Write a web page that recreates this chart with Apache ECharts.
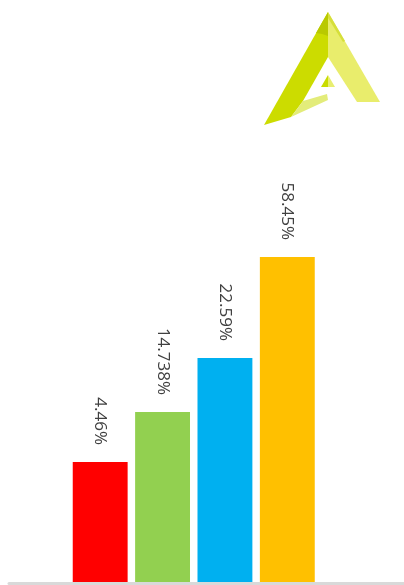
<!DOCTYPE html>
<html>
<head>
<meta charset="utf-8">
<style>
html,body{margin:0;padding:0;background:#fff;}
#chart{width:404px;height:585px;}
</style>
<script src="https://cdn.jsdelivr.net/npm/echarts@6/dist/echarts.min.js"></script>
</head>
<body>
<div id="chart"></div>
<script>
// Data
var categories = ['A', 'B', 'C', 'D'];
var barHeights = [30, 42.5, 56, 81.25];
var barLabels = ['4.46%', '14.738%', '22.59%', '58.45%'];
var barColors = ['#ff0000', '#92d050', '#00b0f0', '#ffc000'];

var chart = echarts.init(document.getElementById('chart'), null, {renderer: 'canvas'});

var seriesData = barHeights.map(function (v, i) {
  return {value: v, itemStyle: {color: barColors[i]}, label: {formatter: barLabels[i]}};
});

chart.setOption({
  animation: false,
  backgroundColor: '#ffffff',
  grid: [
    {left: 69, width: 249.5, top: 182, bottom: 3},
    {left: 9, right: -2, top: 182, bottom: 1.5}
  ],
  xAxis: [
    {type: 'category', gridIndex: 0, data: categories,
     axisLine: {show: false}, axisTick: {show: false}, axisLabel: {show: false}},
    {type: 'category', gridIndex: 1, data: [''],
     axisLine: {show: true, lineStyle: {color: '#d9d9d9', width: 3}},
     axisTick: {show: false}, axisLabel: {show: false}}
  ],
  yAxis: [
    {type: 'value', gridIndex: 0, min: 0, max: 100, show: false, splitLine: {show: false}},
    {type: 'value', gridIndex: 1, min: 0, max: 100, show: false, splitLine: {show: false}}
  ],
  graphic: [
    // logo: light right leg
    {type: 'polygon', shape: {points: [[328,12],[380,102],[357,102],[328,57]]}, style: {fill: '#e9ed6c'}},
    // darker outline near the right outer edge top
    {type: 'polygon', shape: {points: [[328,12],[345,41],[343,42],[328,18]]}, style: {fill: '#d6df3a'}},
    // dark left leg
    {type: 'polygon', shape: {points: [[328,12],[328,57],[303,101],[291,117],[264,125]]}, style: {fill: '#ccdc00'}},
    // olive shading near apex on left leg
    {type: 'polygon', shape: {points: [[328,12],[328,36],[322,34],[316,33]]}, style: {fill: '#b9c900'}},
    // foot
    {type: 'polygon', shape: {points: [[303,101],[327,94],[328,100],[291,117]]}, style: {fill: '#e3ec7a'}},
    // inner small triangle
    {type: 'polygon', shape: {points: [[328,75],[321,87],[328,87]]}, style: {fill: '#c9dc00'}},
    {type: 'polygon', shape: {points: [[328,75],[335,87],[328,87]]}, style: {fill: '#e8ee70'}}
  ],
  series: [{
    type: 'bar',
    xAxisIndex: 0, yAxisIndex: 0,
    data: seriesData,
    barCategoryGap: '12%',
    label: {
      show: true,
      position: 'top',
      rotate: -90,
      align: 'right',
      verticalAlign: 'middle',
      distance: 17,
      color: '#404040',
      fontSize: 17,
      fontFamily: 'Open Sans'
    }
  }]
});
</script>
</body>
</html>
